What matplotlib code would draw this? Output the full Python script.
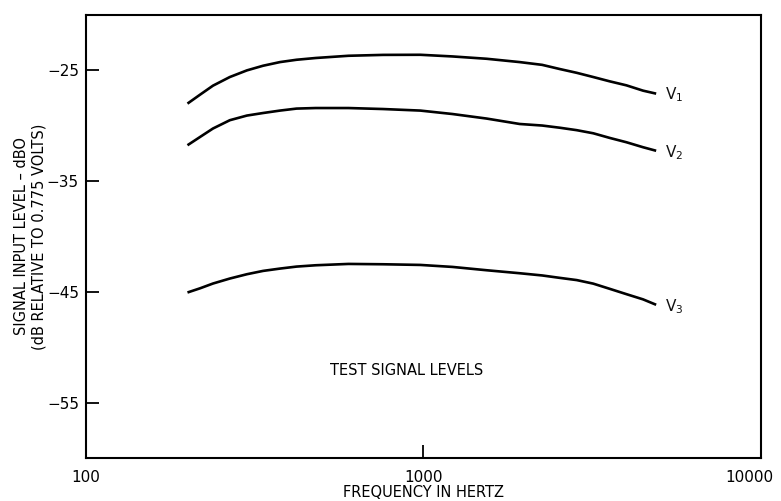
import numpy as np
import matplotlib
matplotlib.use('Agg')
import matplotlib.pyplot as plt
import matplotlib.transforms as mtransforms
from matplotlib.ticker import FixedLocator, FixedFormatter, NullLocator


plt.rcParams['font.family'] = ['DejaVu Sans']

# frequency (Hz) and level (dBO)
FREQ = [200, 218, 238, 267, 300, 335, 376, 421, 480, 600, 760, 980, 1220, 1540,
        1930, 2250, 2540, 2850, 3190, 3570, 4000, 4480, 4900]
V1 = [-28.0, -27.19, -26.38, -25.6, -25.0, -24.58, -24.25, -24.04, -23.88, -23.68,
      -23.6, -23.59, -23.74, -23.95, -24.25, -24.5, -24.88, -25.22, -25.6, -25.99,
      -26.35, -26.83, -27.1]
V2 = [-31.76, -31.01, -30.25, -29.5, -29.08, -28.85, -28.63, -28.45, -28.4, -28.4,
      -28.49, -28.63, -28.94, -29.35, -29.84, -29.98, -30.18, -30.4, -30.68, -31.1,
      -31.49, -31.94, -32.26]
V3 = [-45.06, -44.68, -44.25, -43.8, -43.41, -43.11, -42.9, -42.72, -42.6, -42.48,
      -42.51, -42.57, -42.75, -43.05, -43.32, -43.52, -43.74, -43.94, -44.26, -44.73,
      -45.21, -45.68, -46.17]
SERIES = [('V$_1$', V1), ('V$_2$', V2), ('V$_3$', V3)]

X_TICKS = [100, 1000, 10000]
X_TICK_LABELS = ['100', '1000', '10000']
Y_TICKS = [-25, -35, -45, -55]


def main() -> None:
    fig = plt.figure(figsize=(7.81, 5.01), dpi=100)
    ax = fig.add_axes([0.110, 0.086, 0.864, 0.884])

    for label, values in SERIES:
        ax.plot(FREQ, values, color='k', linewidth=1.9, solid_capstyle='butt',
                solid_joinstyle='round')
        ax.annotate(label, xy=(FREQ[-1], values[-1]), xytext=(6, -1),
                    textcoords='offset points', ha='left', va='center',
                    fontsize=11, color='#111111')

    ax.set_xscale('log')
    ax.set_xlim(100, 10000)
    ax.set_ylim(-60, -20)
    ax.xaxis.set_major_locator(FixedLocator(X_TICKS))
    ax.xaxis.set_major_formatter(FixedFormatter(X_TICK_LABELS))
    ax.xaxis.set_minor_locator(NullLocator())
    ax.set_yticks(Y_TICKS)

    ax.tick_params(axis='both', direction='in', length=9.5, width=1.3,
                   labelsize=11, colors='k')
    ax.tick_params(axis='x', pad=9)
    ax.tick_params(axis='y', pad=5)
    for spine in ax.spines.values():
        spine.set_linewidth(1.5)

    # pull the last x tick label inside the figure
    last = ax.get_xticklabels()[-1]
    last.set_transform(last.get_transform() +
                       mtransforms.ScaledTranslation(-8 / 72, 0, fig.dpi_scale_trans))

    ax.text(890, -52.1, 'TEST SIGNAL LEVELS', ha='center', va='center', fontsize=10.5)

    fig.text(0.542, 0.016, 'FREQUENCY IN HERTZ', ha='center', va='center', fontsize=10.5)
    ax.set_ylabel('SIGNAL INPUT LEVEL \u2013 dBO\n(dB RELATIVE TO 0.775 VOLTS)',
                  fontsize=10.5, labelpad=0, linespacing=1.2)

    fig.savefig('out.png', dpi=100)


if __name__ == '__main__':
    main()
